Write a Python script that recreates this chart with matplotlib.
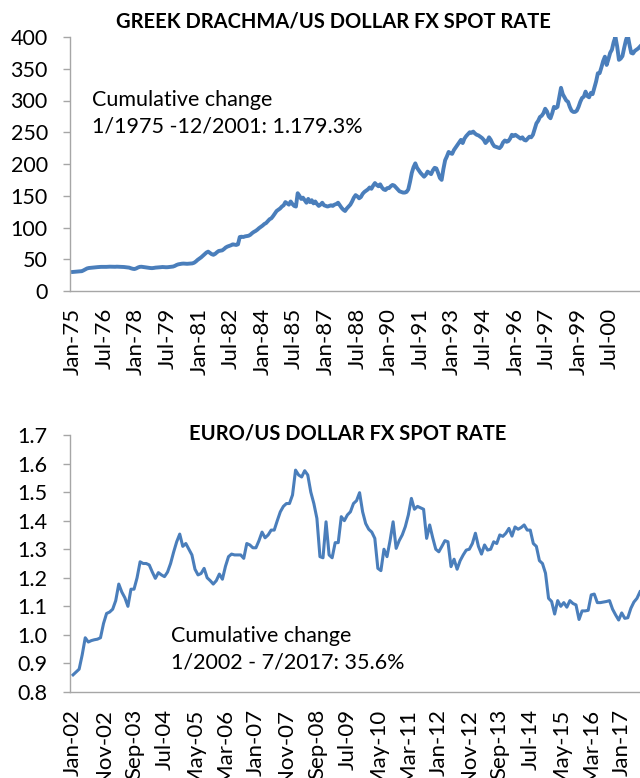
import numpy as np
import pandas as pd
import matplotlib
matplotlib.use('Agg')
import matplotlib.pyplot as plt
from matplotlib.ticker import FormatStrFormatter

# GRD/USD monthly, Jan-1975 .. Dec-2001
grd_1975_1980 = [30.0, 30.2, 30.5, 30.8, 31.0, 31.2, 32.5, 34.0, 35.5, 36.2, 36.5, 36.8,
                 37.0, 37.4, 37.6, 37.8, 38.0, 38.0, 38.1, 38.0, 38.2, 38.3, 38.2, 38.0,
                 38.1, 38.3, 38.2, 38.0, 37.9, 37.8, 37.5, 37.2, 36.8, 35.8, 35.0, 34.6,
                 35.5, 37.0, 38.0, 38.2, 37.8, 37.5, 37.0, 36.5, 36.2, 36.0, 36.3, 36.8,
                 37.0, 37.2, 37.5, 37.8, 37.6, 37.4, 37.5, 37.8, 38.0, 38.5, 39.5, 41.0,
                 42.0, 42.5, 43.0, 43.2, 43.0, 42.8, 43.0, 43.2, 43.5, 44.5, 46.5, 49.0]
grd_1981_1986 = [51.0, 53.0, 55.5, 58.0, 60.5, 62.0, 60.0, 58.0, 57.0, 58.5, 61.0, 63.0,
                 63.5, 64.0, 66.0, 68.5, 70.0, 71.0, 72.0, 73.5, 73.0, 72.5, 73.5, 85.0,
                 85.5, 85.0, 86.0, 86.5, 87.0, 88.5, 91.0, 93.0, 94.5, 96.5, 99.0, 101.0,
                 103.0, 105.5, 107.0, 110.0, 113.0, 114.5, 118.0, 122.0, 126.0, 128.0, 130.0, 133.0,
                 135.0, 140.0, 138.0, 136.0, 141.0, 137.0, 134.0, 133.0, 154.0, 150.0, 145.0, 147.0,
                 143.0, 139.0, 145.0, 140.0, 143.0, 138.0, 141.0, 137.0, 134.0, 136.0, 139.0, 135.0]
grd_1987_1992 = [134.0, 133.0, 134.0, 135.0, 134.0, 136.0, 137.0, 139.0, 135.0, 131.0, 128.0, 126.0,
                 130.0, 133.0, 136.0, 141.0, 147.0, 151.0, 149.0, 146.0, 148.0, 153.0, 156.0, 158.0,
                 160.0, 163.0, 161.0, 166.0, 170.0, 167.0, 165.0, 168.0, 163.0, 160.0, 159.0, 162.0,
                 162.0, 165.0, 167.0, 166.0, 163.0, 160.0, 157.0, 156.0, 155.0, 155.0, 156.0, 160.0,
                 172.0, 186.0, 195.0, 201.0, 194.0, 190.0, 186.0, 183.0, 180.0, 183.0, 188.0, 186.0,
                 184.0, 190.0, 194.0, 193.0, 186.0, 178.0, 175.0, 192.0, 206.0, 212.0, 219.0, 217.0]
grd_1993_1998 = [216.0, 222.0, 226.0, 230.0, 234.0, 238.0, 233.0, 240.0, 244.0, 247.0, 250.0, 249.0,
                 251.0, 248.0, 246.0, 245.0, 243.0, 241.0, 238.0, 233.0, 236.0, 242.0, 238.0, 232.0,
                 228.0, 227.0, 226.0, 225.0, 228.0, 234.0, 237.0, 235.0, 236.0, 240.0, 246.0, 244.0,
                 246.0, 244.0, 242.0, 240.0, 242.0, 238.0, 237.0, 240.0, 243.0, 242.0, 246.0, 255.0,
                 264.0, 268.0, 274.0, 276.0, 280.0, 287.0, 283.0, 275.0, 272.0, 280.0, 290.0, 288.0,
                 290.0, 305.0, 320.0, 310.0, 305.0, 300.0, 298.0, 290.0, 284.0, 282.0, 282.0, 284.0]
grd_1999_2001 = [290.0, 298.0, 304.0, 306.0, 314.0, 307.0, 305.0, 312.0, 310.0, 320.0, 330.0, 343.0,
                 343.0, 352.0, 362.0, 369.0, 356.0, 365.0, 375.0, 380.0, 392.0, 400.0, 385.0, 364.0,
                 366.0, 370.0, 383.0, 395.0, 403.0, 388.0, 375.0, 374.0, 378.0, 380.0, 382.0, 385.0]
grd_usd = grd_1975_1980 + grd_1981_1986 + grd_1987_1992 + grd_1993_1998 + grd_1999_2001

# EUR/USD monthly, Jan-2002 .. Jul-2017
eur_usd = [0.86, 0.87, 0.88, 0.93, 0.99, 0.975, 0.98, 0.983, 0.985, 0.99, 1.04, 1.075,
           1.08, 1.09, 1.12, 1.178, 1.15, 1.13, 1.10, 1.16, 1.16, 1.20, 1.256, 1.25,
           1.25, 1.245, 1.22, 1.198, 1.218, 1.21, 1.204, 1.22, 1.25, 1.29, 1.326, 1.353,
           1.31, 1.32, 1.30, 1.28, 1.23, 1.21, 1.215, 1.233, 1.20, 1.19, 1.178, 1.19,
           1.213, 1.195, 1.24, 1.274, 1.283, 1.28, 1.28, 1.28, 1.268, 1.32, 1.315, 1.305,
           1.305, 1.33, 1.36, 1.34, 1.35, 1.367, 1.367, 1.40, 1.431, 1.45, 1.46, 1.46,
           1.49, 1.577, 1.56, 1.553, 1.575, 1.56, 1.50, 1.46, 1.408, 1.274, 1.27, 1.396,
           1.28, 1.27, 1.323, 1.323, 1.414, 1.40, 1.42, 1.431, 1.46, 1.47, 1.498, 1.431,
           1.39, 1.37, 1.36, 1.338, 1.233, 1.225, 1.30, 1.274, 1.33, 1.396, 1.303, 1.33,
           1.35, 1.379, 1.42, 1.478, 1.44, 1.45, 1.445, 1.44, 1.338, 1.385, 1.34, 1.30,
           1.291, 1.31, 1.33, 1.326, 1.239, 1.265, 1.23, 1.26, 1.28, 1.297, 1.30, 1.32,
           1.356, 1.31, 1.283, 1.315, 1.297, 1.30, 1.326, 1.32, 1.35, 1.345, 1.356, 1.373,
           1.346, 1.378, 1.37, 1.376, 1.385, 1.367, 1.367, 1.32, 1.31, 1.26, 1.25, 1.216,
           1.128, 1.117, 1.073, 1.12, 1.10, 1.113, 1.097, 1.12, 1.11, 1.105, 1.054, 1.084,
           1.084, 1.086, 1.14, 1.143, 1.113, 1.113, 1.115, 1.117, 1.12, 1.09, 1.07, 1.052,
           1.077, 1.058, 1.06, 1.093, 1.115, 1.128, 1.151]

grd_dates = pd.date_range('1975-01-01', periods=len(grd_usd), freq='MS')
eur_dates = pd.date_range('2002-01-01', periods=len(eur_usd), freq='MS')

grd_title = 'GREEK DRACHMA/US DOLLAR FX SPOT RATE'
eur_title = 'EURO/US DOLLAR FX SPOT RATE'
grd_note = 'Cumulative change\n1/1975 -12/2001: 1.179.3%'
eur_note = 'Cumulative change\n1/2002 - 7/2017: 35.6%'

plt.rcParams['font.family'] = ['Lato', 'DejaVu Sans']
LINE = '#4A7EBB'
GREY = '#A6A6A6'
FS = 15.5

fig = plt.figure(figsize=(6.4, 7.78), dpi=100)
W, H = 640.0, 778.0

def panel(top_px, bot_px, vals, dates, step, ylim, yticks, fmt, x_left, lw):
    ax = fig.add_axes([70 / W, 1 - bot_px / H, 570 / W, (bot_px - top_px) / H])
    x = np.arange(len(vals))
    ax.plot(x, vals, color=LINE, lw=lw, solid_joinstyle='round')
    ax.set_xlim(x_left, len(vals) - 1)
    ax.set_ylim(*ylim)
    ax.set_yticks(yticks)
    ax.yaxis.set_major_formatter(FormatStrFormatter(fmt))
    pos = x[::step]
    ax.set_xticks(pos)
    ax.set_xticklabels([d.strftime('%b-%y') for d in dates[::step]], rotation=90)
    for s in ['top', 'right']:
        ax.spines[s].set_visible(False)
    for s in ['left', 'bottom']:
        ax.spines[s].set_color(GREY)
        ax.spines[s].set_linewidth(1.0)
    ax.tick_params(axis='y', length=5, width=1, color=GREY, pad=11, labelsize=FS)
    ax.tick_params(axis='x', length=0, pad=12, labelsize=16)
    return ax

ax1 = panel(37, 291, grd_usd, grd_dates, 18, (0, 400), range(0, 401, 50), '%d', -1.7, 2.8)
ax2 = panel(435, 692, eur_usd, eur_dates, 10, (0.8, 1.7), np.arange(0.8, 1.71, 0.1), '%.1f', -1.0, 2.2)

fig.text(333 / W, 1 - 21 / H, grd_title, ha='center', va='center', fontsize=14.5, fontweight='bold')
fig.text(348 / W, 1 - 434 / H, eur_title, ha='center', va='center', fontsize=14.5, fontweight='bold')
fig.text(92 / W, 1 - 90 / H, grd_note, ha='left', va='top', fontsize=FS, linespacing=1.4)
fig.text(171 / W, 1 - 626 / H, eur_note, ha='left', va='top', fontsize=FS, linespacing=1.4)

fig.savefig('out.png', dpi=100)
